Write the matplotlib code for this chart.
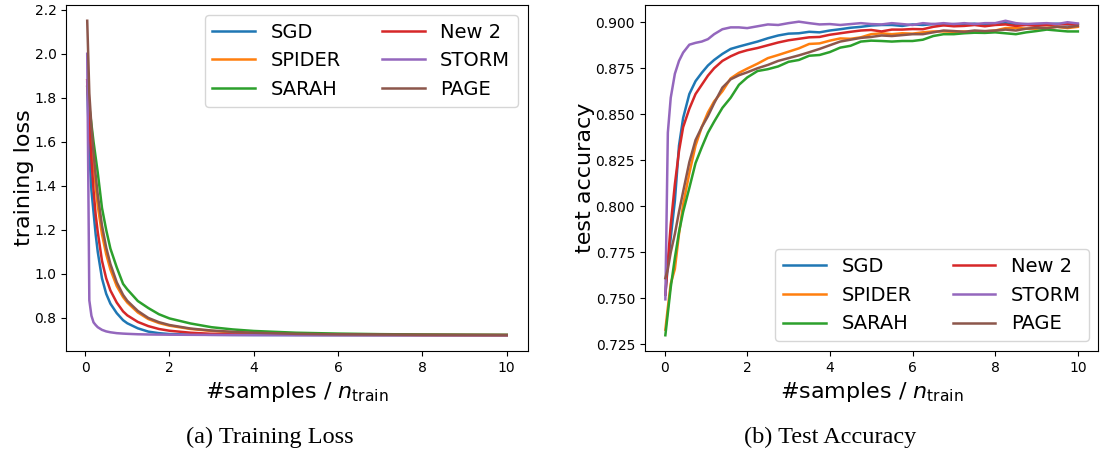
import matplotlib
matplotlib.use('Agg')
import matplotlib.pyplot as plt

# method names, in plotting order (default colour cycle C0..C5)
methods = ['SGD', 'SPIDER', 'SARAH', 'New 2', 'STORM', 'PAGE']

# ---- training loss ----
loss_x = [0.05, 0.1, 0.15, 0.2, 0.25, 0.3, 0.4, 0.5, 0.6, 0.75, 0.9, 1.0, 1.25,
          1.5, 1.75, 2.0, 2.5, 3.0, 3.5, 4.0, 5.0, 6.0, 7.0, 8.0, 9.0, 10.0]
loss_sgd = [1.87, 1.55, 1.38, 1.28, 1.18, 1.10, 0.98, 0.91, 0.865, 0.822, 0.79, 0.776, 0.753,
            0.738, 0.731, 0.727, 0.7245, 0.7235, 0.723, 0.7228, 0.7225, 0.7223, 0.7222, 0.7221, 0.722, 0.722]
loss_spider = [1.88, 1.74, 1.62, 1.50, 1.40, 1.31, 1.18, 1.09, 1.02, 0.945, 0.895, 0.87, 0.825,
               0.795, 0.777, 0.765, 0.750, 0.741, 0.735, 0.731, 0.727, 0.725, 0.724, 0.723, 0.7225, 0.722]
loss_sarah = [1.85, 1.76, 1.68, 1.60, 1.53, 1.46, 1.30, 1.20, 1.115, 1.03, 0.955, 0.93, 0.877,
              0.845, 0.817, 0.798, 0.775, 0.758, 0.748, 0.741, 0.733, 0.729, 0.7265, 0.725, 0.724, 0.7233]
loss_new2 = [1.88, 1.68, 1.52, 1.38, 1.27, 1.19, 1.06, 0.98, 0.925, 0.87, 0.83, 0.812, 0.782,
             0.763, 0.750, 0.742, 0.733, 0.728, 0.7255, 0.7245, 0.7235, 0.723, 0.7225, 0.7222, 0.722, 0.722]
loss_storm = [2.00, 0.88, 0.81, 0.78, 0.768, 0.758, 0.746, 0.739, 0.735, 0.731, 0.729, 0.728, 0.726,
              0.725, 0.7245, 0.724, 0.7235, 0.723, 0.7225, 0.7222, 0.722, 0.7218, 0.7217, 0.7216, 0.7215, 0.7215]
loss_page = [2.15, 1.82, 1.67, 1.55, 1.45, 1.36, 1.22, 1.12, 1.045, 0.962, 0.905, 0.878, 0.832,
             0.800, 0.781, 0.768, 0.752, 0.743, 0.737, 0.733, 0.728, 0.7255, 0.7245, 0.7235, 0.723, 0.7225]

# ---- test accuracy ----
acc_x = [0.02, 0.08, 0.15, 0.25, 0.35, 0.45, 0.6, 0.75, 0.9, 1.05, 1.2, 1.4, 1.6, 1.8, 2.0,
         2.25, 2.5, 2.75, 3.0, 3.25, 3.5, 3.75, 4.0, 4.25, 4.5, 4.75, 5.0, 5.25, 5.5, 5.75, 6.0,
         6.25, 6.5, 6.75, 7.0, 7.25, 7.5, 7.75, 8.0, 8.25, 8.5, 8.75, 9.0, 9.25, 9.5, 9.75, 10.0]
acc_sgd = [0.752, 0.768, 0.783, 0.803, 0.833, 0.848, 0.861, 0.868, 0.8725, 0.8765, 0.8795, 0.8828, 0.8855, 0.8868, 0.888,
           0.8895, 0.8913, 0.8928, 0.8938, 0.894, 0.8948, 0.8945, 0.8955, 0.8962, 0.897, 0.8975, 0.8982, 0.8985, 0.8985, 0.898, 0.8988,
           0.8985, 0.899, 0.8985, 0.899, 0.8988, 0.8992, 0.8985, 0.899, 0.8995, 0.8988, 0.899, 0.8985, 0.899, 0.8992, 0.8988, 0.899]
acc_spider = [0.733, 0.745, 0.758, 0.766, 0.785, 0.801, 0.818, 0.833, 0.843, 0.851, 0.857, 0.8625, 0.8695, 0.8725, 0.8748,
              0.8775, 0.8805, 0.8822, 0.884, 0.8858, 0.8882, 0.8885, 0.890, 0.8912, 0.891, 0.8918, 0.8935, 0.894, 0.8935, 0.894, 0.8938,
              0.8945, 0.895, 0.895, 0.8948, 0.895, 0.8945, 0.895, 0.8955, 0.8968, 0.897, 0.8965, 0.8965, 0.897, 0.8975, 0.8968, 0.8975]
acc_sarah = [0.730, 0.742, 0.756, 0.772, 0.786, 0.797, 0.810, 0.8235, 0.832, 0.840, 0.846, 0.8535, 0.859, 0.866, 0.870,
             0.8735, 0.8745, 0.876, 0.8785, 0.8795, 0.8818, 0.8822, 0.8838, 0.8862, 0.8872, 0.8895, 0.890, 0.8898, 0.8895, 0.8898, 0.8898,
             0.8905, 0.8925, 0.8935, 0.8935, 0.894, 0.8943, 0.8942, 0.8945, 0.894, 0.8935, 0.8945, 0.8952, 0.896, 0.8955, 0.895, 0.895]
acc_new2 = [0.752, 0.770, 0.790, 0.812, 0.830, 0.843, 0.853, 0.861, 0.866, 0.871, 0.875, 0.879, 0.8815, 0.8835, 0.8848,
            0.886, 0.8875, 0.889, 0.8902, 0.891, 0.8918, 0.892, 0.8932, 0.894, 0.8948, 0.8955, 0.8958, 0.895, 0.896, 0.896, 0.8963,
            0.8962, 0.8975, 0.8983, 0.8978, 0.898, 0.8985, 0.8978, 0.8985, 0.8988, 0.898, 0.8985, 0.898, 0.8985, 0.8988, 0.899, 0.8985]
acc_storm = [0.7495, 0.840, 0.859, 0.872, 0.879, 0.8835, 0.8878, 0.8888, 0.8895, 0.8908, 0.8935, 0.8962, 0.8972, 0.8972, 0.8968,
             0.8978, 0.8988, 0.8985, 0.8995, 0.9003, 0.8995, 0.8988, 0.899, 0.8985, 0.899, 0.8995, 0.899, 0.8988, 0.8995, 0.899, 0.8985,
             0.8995, 0.899, 0.8995, 0.899, 0.8995, 0.899, 0.8995, 0.8995, 0.9008, 0.8995, 0.899, 0.8993, 0.8995, 0.899, 0.900, 0.8993]
acc_page = [0.761, 0.766, 0.775, 0.785, 0.797, 0.808, 0.824, 0.836, 0.843, 0.849, 0.856, 0.8645, 0.869, 0.8712, 0.8728,
            0.875, 0.8768, 0.879, 0.8805, 0.882, 0.8837, 0.8855, 0.8875, 0.8895, 0.8905, 0.8915, 0.892, 0.8928, 0.8925, 0.893, 0.8935,
            0.8935, 0.8945, 0.8955, 0.8952, 0.8948, 0.8955, 0.8952, 0.8955, 0.896, 0.8955, 0.8965, 0.897, 0.8968, 0.8975, 0.8972, 0.898]

loss_all = [loss_sgd, loss_spider, loss_sarah, loss_new2, loss_storm, loss_page]
acc_all = [acc_sgd, acc_spider, acc_sarah, acc_new2, acc_storm, acc_page]

fig = plt.figure(figsize=(11.04, 4.57), dpi=100)
ax1 = fig.add_axes([0.060, 0.232, 0.418, 0.757])
ax2 = fig.add_axes([0.584, 0.232, 0.411, 0.757])

for name, ys in zip(methods, loss_all):
    ax1.plot(loss_x, ys, lw=1.8, label=name)
for name, ys in zip(methods, acc_all):
    ax2.plot(acc_x, ys, lw=1.8, label=name)

ax1.set_ylabel('training loss', fontsize=16, labelpad=0.5)
ax2.set_ylabel('test accuracy', fontsize=16, labelpad=0.5)
for ax in (ax1, ax2):
    ax.set_xlabel(r'#samples / $n_{\rm train}$', fontsize=16)
    ax.set_xticks([0, 2, 4, 6, 8, 10])
    ax.tick_params(labelsize=10)

leg_kw = dict(ncol=2, fontsize=14, handlelength=2.2, columnspacing=2.1)
ax1.legend(loc='upper right', **leg_kw)
ax2.legend(loc='lower right', **leg_kw)

fig.text(0.244, 0.03, '(a) Training Loss', fontsize=17.5, family='Liberation Serif', ha='center')
fig.text(0.752, 0.03, '(b) Test Accuracy', fontsize=17.5, family='Liberation Serif', ha='center')

fig.savefig('out.png', dpi=100)
